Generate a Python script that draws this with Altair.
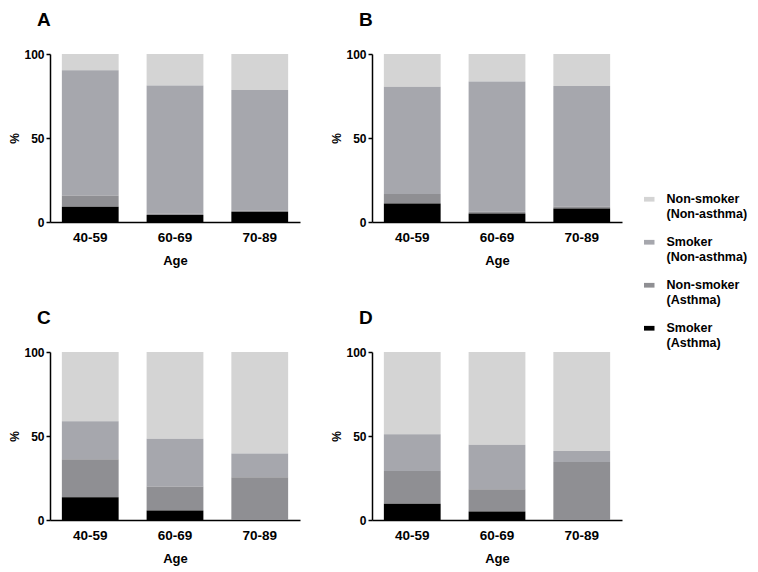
import altair as alt
import pandas as pd

ages = ["40-59", "60-69", "70-89"]
groups = ["Non-smoker (Non-asthma)", "Smoker (Non-asthma)", "Non-smoker (Asthma)", "Smoker (Asthma)"]
colors = ["#d4d4d4", "#a6a7ad", "#8f8f93", "#000000"]
stack_rank = [3, 2, 1, 0]

# segment heights (%) per age group
A_nonsmoker_nonasthma = [9.7, 18.7, 21.5]
A_smoker_nonasthma = [74.7, 76.2, 71.8]
A_nonsmoker_asthma = [6.5, 1.0, 0.6]
A_smoker_asthma = [9.1, 4.1, 6.1]

B_nonsmoker_nonasthma = [19.5, 16.3, 19.1]
B_smoker_nonasthma = [63.8, 77.6, 71.7]
B_nonsmoker_asthma = [5.7, 1.0, 1.1]
B_smoker_asthma = [11.0, 5.1, 8.1]

C_nonsmoker_nonasthma = [41.2, 51.7, 60.4]
C_smoker_nonasthma = [22.6, 28.4, 14.2]
C_nonsmoker_asthma = [22.7, 14.3, 25.4]
C_smoker_asthma = [13.5, 5.6, 0.0]

D_nonsmoker_nonasthma = [48.9, 55.2, 58.9]
D_smoker_nonasthma = [21.9, 26.5, 6.6]
D_nonsmoker_asthma = [19.6, 13.2, 34.5]
D_smoker_asthma = [9.6, 5.1, 0.0]

panels = {
    "A": [A_nonsmoker_nonasthma, A_smoker_nonasthma, A_nonsmoker_asthma, A_smoker_asthma],
    "B": [B_nonsmoker_nonasthma, B_smoker_nonasthma, B_nonsmoker_asthma, B_smoker_asthma],
    "C": [C_nonsmoker_nonasthma, C_smoker_nonasthma, C_nonsmoker_asthma, C_smoker_asthma],
    "D": [D_nonsmoker_nonasthma, D_smoker_nonasthma, D_nonsmoker_asthma, D_smoker_asthma],
}

rows = []
for letter, series in panels.items():
    for g, rank, vals in zip(groups, stack_rank, series):
        for a, v in zip(ages, vals):
            rows.append({"panel": letter, "age": a, "group": g, "rank": rank, "value": v})
df = pd.DataFrame(rows)


def panel(letter):
    return alt.Chart(df[df.panel == letter]).mark_bar().encode(
        x=alt.X("age:N", sort=ages, title="Age",
                scale=alt.Scale(paddingInner=0.33, paddingOuter=0.14),
                axis=alt.Axis(labelAngle=0, ticks=False, labelFontSize=13.5, labelPadding=8,
                              titlePadding=11, titleFontSize=13)),
        y=alt.Y("value:Q", stack="zero", title="%",
                scale=alt.Scale(domain=[0, 100], nice=False),
                axis=alt.Axis(values=[0, 50, 100], tickSize=4, labelFontSize=12, labelPadding=2,
                              titlePadding=2, titleFontSize=12, grid=False)),
        color=alt.Color("group:N", scale=alt.Scale(domain=groups, range=colors),
                        legend=alt.Legend(title=None, labelExpr="split(datum.label, ' ')")),
        order=alt.Order("rank:Q", sort="ascending"),
    ).properties(
        width=250, height=168,
        title=alt.TitleParams(letter, anchor="start", frame="group", fontSize=19,
                              fontWeight="bold", dx=-13, offset=18),
    )


top = alt.hconcat(panel("A"), panel("B"), spacing=30)
bottom = alt.hconcat(panel("C"), panel("D"), spacing=30)
chart = alt.vconcat(top, bottom, spacing=41).properties(
    padding={"left": 0, "top": 3, "right": 0, "bottom": 0}
).configure(
    font="Liberation Sans",
).configure_view(stroke=None).configure_axis(
    domainColor="black", domainWidth=1.5, tickColor="black", tickWidth=1.5,
    labelColor="black", labelFont="Liberation Sans", labelFontWeight="bold",
    titleColor="black", titleFont="Liberation Sans", titleFontWeight="bold",
).configure_title(
    font="Liberation Sans", color="black",
).configure_legend(
    orient="none", legendX=593, legendY=139, padding=0,
    labelFont="Liberation Sans", labelFontSize=12.5, labelFontWeight="bold", labelColor="black",
    labelBaseline="middle", labelLimit=200,
    symbolType="M-1,-0.45L1,-0.45L1,0.45L-1,0.45Z", symbolSize=110, symbolStrokeWidth=0,
    symbolOpacity=1, rowPadding=15, labelOffset=11,
)

chart.save("out.html", embed_options={"renderer": "svg", "actions": False})
